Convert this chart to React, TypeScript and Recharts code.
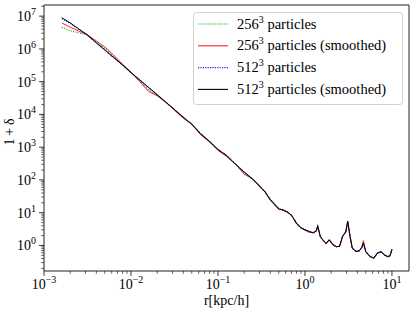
import React from "react";
import { LineChart, Line, XAxis, YAxis, ReferenceArea } from "recharts";

// radius r [kpc/h]
const R = [
  0.0016, 0.002, 0.0025, 0.0031, 0.004, 0.005, 0.0063, 0.008, 0.01, 0.0126,
  0.016, 0.02, 0.025, 0.0316, 0.04, 0.05, 0.063, 0.08, 0.1, 0.126,
  0.16, 0.2, 0.25, 0.3, 0.35, 0.4, 0.45, 0.5, 0.56, 0.63,
  0.7, 0.8, 0.9, 1.0, 1.12, 1.25, 1.35, 1.4, 1.5, 1.6,
  1.75, 1.9, 2.1, 2.3, 2.5, 2.7, 2.95, 3.1, 3.3, 3.5,
  3.85, 4.2, 4.5, 4.7, 5.0, 5.6, 6.2, 6.8, 7.5, 8.2,
  8.9, 9.5, 10,
];

// 1 + delta
const P256 = [
  4.6e6, 3.6e6, 3.1e6, 2.7e6, 1.6e6, 1.05e6, 6.0e5, 3.3e5, 1.9e5, 1.05e5,
  5.6e4, 3.8e4, 2.4e4, 1.38e4, 7.9e3, 5.0e3, 2.5e3, 1.5e3, 820, 530,
  298, 158, 106, 64, 43, 24, 17.5, 12.8, 12.2, 10.3,
  8.4, 4.6, 3.45, 2.95, 2.6, 2.45, 2.75, 3.9, 1.85, 1.5,
  1.12, 1.5, 1.03, 0.92, 0.94, 1.88, 2.65, 5.4, 1.88, 0.82,
  0.66, 0.67, 0.88, 1.3, 0.64, 0.46, 0.41, 0.59, 0.63, 0.52,
  0.45, 0.49, 0.77,
];
const P256S = [
  6.2e6, 4.6e6, 3.5e6, 2.8e6, 1.75e6, 1.15e6, 6.5e5, 3.4e5, 1.95e5, 1.0e5,
  5.0e4, 3.7e4, 2.4e4, 1.35e4, 7.6e3, 5.1e3, 2.4e3, 1.45e3, 800, 520,
  300, 150, 110, 62, 44, 24, 17, 12.5, 12.5, 10,
  8.6, 4.5, 3.4, 2.9, 2.5, 2.5, 2.7, 4.0, 1.8, 1.5,
  1.1, 1.5, 1.0, 0.9, 0.95, 1.9, 2.7, 5.3, 1.9, 0.8,
  0.68, 0.66, 0.9, 1.4, 0.62, 0.47, 0.4, 0.6, 0.62, 0.53,
  0.44, 0.5, 0.78,
];
const P512 = [
  8.4e6, 6.0e6, 4.0e6, 2.72e6, 1.52e6, 9.3e5, 5.4e5, 3.25e5, 1.88e5, 1.14e5,
  6.5e4, 4.05e4, 2.38e4, 1.42e4, 8.1e3, 5.05e3, 2.62e3, 1.48e3, 860, 545,
  300, 172, 105, 67, 41, 25.5, 17.8, 13.4, 11.8, 10.6,
  8.2, 4.9, 3.45, 3.05, 2.65, 2.42, 2.85, 3.85, 1.92, 1.46,
  1.18, 1.46, 1.08, 0.92, 0.94, 1.84, 2.62, 5.4, 1.84, 0.84,
  0.64, 0.7, 0.86, 1.15, 0.66, 0.45, 0.42, 0.57, 0.66, 0.5,
  0.47, 0.47, 0.75,
];
const P512S = [
  9.0e6, 6.2e6, 4.1e6, 2.75e6, 1.53e6, 9.2e5, 5.5e5, 3.2e5, 1.9e5, 1.13e5,
  6.6e4, 4.0e4, 2.4e4, 1.4e4, 8.2e3, 5.0e3, 2.6e3, 1.5e3, 850, 560,
  295, 175, 107, 66, 42, 25, 18, 13.2, 12, 10.5,
  8.3, 4.8, 3.5, 3.0, 2.7, 2.4, 2.8, 3.9, 1.9, 1.48,
  1.17, 1.48, 1.07, 0.93, 0.93, 1.86, 2.6, 5.5, 1.86, 0.83,
  0.65, 0.69, 0.87, 1.17, 0.65, 0.46, 0.41, 0.58, 0.65, 0.51,
  0.46, 0.48, 0.76,
];

const X_MAJOR = [0.001, 0.01, 0.1, 1, 10];
const Y_MAJOR = [1, 10, 100, 1e3, 1e4, 1e5, 1e6, 1e7];
const X_DOMAIN = [0.001, 15.7];
const Y_DOMAIN = [0.166, 2.19e7];

const minors = (majors: number[], lo: number, hi: number) =>
  [majors[0] / 10, ...majors]
    .flatMap((m) => [2, 3, 4, 5, 6, 7, 8, 9].map((k) => k * m))
    .filter((v) => v >= lo && v <= hi);

const X_TICKS = [...X_MAJOR, ...minors(X_MAJOR, X_DOMAIN[0], X_DOMAIN[1])];
const Y_TICKS = [...Y_MAJOR, ...minors(Y_MAJOR, Y_DOMAIN[0], Y_DOMAIN[1])];

const data = R.map((r, i) => ({
  r,
  a: P256[i],
  b: P256S[i],
  c: P512[i],
  d: P512S[i],
}));

const FONT = "'Liberation Serif', 'DejaVu Serif', serif";

const expOf = (v: number) => Math.round(Math.log10(v));
const isMajor = (v: number) => Math.abs(Math.log10(v) - expOf(v)) < 1e-6;
const expText = (e: number) => (e < 0 ? "\u2212" + -e : String(e));

const XTick = (props: any) => {
  const { x, y, payload } = props;
  const v = payload.value;
  const major = isMajor(v);
  return (
    <g>
      <line x1={x} x2={x} y1={y} y2={y + (major ? 4.9 : 2.8)} stroke="#000" strokeWidth={major ? 0.8 : 0.6} />
      {major && (
        <text x={x} y={y + 18} textAnchor="middle" fontSize={14} fontFamily={FONT} fill="#000">
          10
          <tspan dy={-6} fontSize={10}>{expText(expOf(v))}</tspan>
        </text>
      )}
    </g>
  );
};

const YTick = (props: any) => {
  const { x, y, payload } = props;
  const v = payload.value;
  const major = isMajor(v);
  return (
    <g>
      <line x1={x - (major ? 4.9 : 2.8)} x2={x} y1={y} y2={y} stroke="#000" strokeWidth={major ? 0.8 : 0.6} />
      {major && (
        <text x={x - 8} y={y + 5} textAnchor="end" fontSize={14} fontFamily={FONT} fill="#000">
          10
          <tspan dy={-6} fontSize={10}>{expText(expOf(v))}</tspan>
        </text>
      )}
    </g>
  );
};

const LEGEND = [
  { base: "256", suffix: " particles", color: "#22aa22", dash: "1.2 1.2" },
  { base: "256", suffix: " particles (smoothed)", color: "#ff2020", dash: undefined },
  { base: "512", suffix: " particles", color: "#2020ff", dash: "1.2 1.2" },
  { base: "512", suffix: " particles (smoothed)", color: "#000000", dash: undefined },
];

export default function App() {
  return (
    <div style={{ position: "absolute", left: 0, top: 0, width: 415, height: 311, background: "#fff" }}>
      <LineChart width={415} height={311} data={data} margin={{ top: 5, right: 6, bottom: 0, left: 0 }}>
        <XAxis
          dataKey="r"
          type="number"
          scale="log"
          domain={X_DOMAIN}
          allowDataOverflow
          ticks={X_TICKS}
          interval={0}
          tick={<XTick />}
          tickLine={false}
          axisLine={false}
          tickSize={0}
          tickMargin={0}
          height={40}
        />
        <YAxis
          type="number"
          scale="log"
          domain={Y_DOMAIN}
          allowDataOverflow
          ticks={Y_TICKS}
          interval={0}
          tick={<YTick />}
          tickLine={false}
          axisLine={false}
          tickSize={0}
          tickMargin={0}
          width={44}
        />
        <Line dataKey="a" stroke="#22aa22" strokeWidth={1.1} strokeDasharray="1.2 1.2" dot={false} isAnimationActive={false} />
        <Line dataKey="b" stroke="#ff2020" strokeWidth={1} dot={false} isAnimationActive={false} />
        <Line dataKey="c" stroke="#2020ff" strokeWidth={1.1} strokeDasharray="1.2 1.2" dot={false} isAnimationActive={false} />
        <Line dataKey="d" stroke="#000000" strokeWidth={1} dot={false} isAnimationActive={false} />
        <ReferenceArea
          x1={X_DOMAIN[0]}
          x2={X_DOMAIN[1]}
          y1={Y_DOMAIN[0]}
          y2={Y_DOMAIN[1]}
          fill="none"
          stroke="#222"
          strokeWidth={1}
          ifOverflow="visible"
        />
      </LineChart>
      <svg width={415} height={311} style={{ position: "absolute", left: 0, top: 0, pointerEvents: "none" }}>
        <text x={226.5} y={305} textAnchor="middle" fontSize={14} fontFamily={FONT}>
          r[kpc/h]
        </text>
        <text
          transform="translate(14,132) rotate(-90)"
          textAnchor="middle"
          fontSize={14}
          fontFamily={FONT}
        >
          {"1\u2009+\u2009δ"}
        </text>
        <rect x={193.5} y={12.5} width={209} height={92} rx={3} fill="rgba(255,255,255,0.8)" stroke="#d0d0d0" strokeWidth={1} />
        {LEGEND.map((item, i) => {
          const cy = 24 + i * 21.8;
          return (
            <g key={i}>
              <line x1={198} x2={228} y1={cy} y2={cy} stroke={item.color} strokeWidth={1.1} strokeDasharray={item.dash} />
              <text x={237} y={cy + 4.5} fontSize={14.5} fontFamily={FONT}>
                {item.base}
                <tspan dy={-6} fontSize={10}>3</tspan>
                <tspan dy={6}>{item.suffix}</tspan>
              </text>
            </g>
          );
        })}
      </svg>
    </div>
  );
}
